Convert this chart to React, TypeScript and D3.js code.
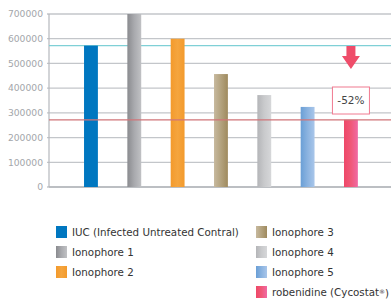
import React from "react";
import * as d3 from "d3";

const categories = [
  "IUC (Infected Untreated Contral)",
  "Ionophore 1",
  "Ionophore 2",
  "Ionophore 3",
  "Ionophore 4",
  "Ionophore 5",
  "robenidine (Cycostat®)",
];
const values = [572000, 700000, 600000, 457000, 372000, 324000, 272000];
const yTicks = [0, 100000, 200000, 300000, 400000, 500000, 600000, 700000];
const refLines = [572000, 272000];
const reductionLabel = "-52%";

const gradients: [string, string, string][] = [
  ["#0077c0", "#0077c0", "#0077c0"],
  ["#8a8b8f", "#a9aaae", "#c0c1c4"],
  ["#f39a2c", "#f5a53e", "#f39a2c"],
  ["#c7b99e", "#b3a27e", "#9f8a5e"],
  ["#b4b5b8", "#c9cacc", "#d6d7d9"],
  ["#6a9fd6", "#8bb3e0", "#a9c6ea"],
  ["#ee4868", "#f05878", "#f06aa4"],
];

export default function App() {
  const W = 391, H = 299;
  const x0 = 49, xr = 391, yTop = 14, yBot = 187;
  const x = d3.scaleBand<string>().domain(categories).range([69.3, 372.6]).paddingInner(0.68).paddingOuter(0.34);
  const y = d3.scaleLinear().domain([0, 700000]).range([yBot, yTop]);
  const fmt = d3.format("d");
  const lastX = (x(categories[6]) as number) + x.bandwidth() / 2;
  const legendRows = [
    { i: 0, col: 0, row: 0 }, { i: 1, col: 0, row: 1 }, { i: 2, col: 0, row: 2 },
    { i: 3, col: 1, row: 0 }, { i: 4, col: 1, row: 1 }, { i: 5, col: 1, row: 2 }, { i: 6, col: 1, row: 3 },
  ];
  return (
    <svg width={W} height={H} style={{ position: "absolute", left: 0, top: 0, fontFamily: "'DejaVu Sans', Verdana, sans-serif" }}>
      <defs>
        {gradients.map((g, i) => (
          <linearGradient key={i} id={`g${i}`} x1="0" x2="1" y1="0" y2="0">
            <stop offset="0%" stopColor={g[0]} />
            <stop offset="50%" stopColor={g[1]} />
            <stop offset="100%" stopColor={g[2]} />
          </linearGradient>
        ))}
      </defs>
      <rect width={W} height={H} fill="#fff" />
      {yTicks.map((t) => (
        <g key={t}>
          <line x1={t > 0 ? x0 - 2 : x0 - 2} x2={xr} y1={y(t)} y2={y(t)} stroke="#c3c6ca" strokeWidth={1.3} />
          <text x={43} y={y(t)} dy="0.35em" textAnchor="end" fontSize={9.2} fill="#a3a6aa">{fmt(t)}</text>
        </g>
      ))}
      <line x1={x0} x2={x0} y1={yTop} y2={yBot} stroke="#b5b8bc" strokeWidth={1.2} />
      <line x1={x0} x2={xr} y1={yBot} y2={yBot} stroke="#b5b8bc" strokeWidth={1.3} />
      <line x1={x0} x2={xr} y1={y(refLines[0])} y2={y(refLines[0])} stroke="#7fd0d6" strokeWidth={1.3} />
      {values.map((v, i) => (
        <rect key={i} x={x(categories[i])} y={y(v)} width={x.bandwidth()} height={yBot - y(v)} fill={`url(#g${i})`} />
      ))}
      <line x1={x0} x2={xr} y1={y(refLines[1])} y2={y(refLines[1])} stroke="#d07478" strokeWidth={1.3} />
      <path
        d={`M${lastX - 4.5},${yTop + 32} H${lastX + 4.5} V${yTop + 42} H${lastX + 9} L${lastX},${yTop + 55} L${lastX - 9},${yTop + 42} H${lastX - 4.5} Z`}
        fill="#ef4d6a"
      />
      <rect x={lastX - 18.5} y={87} width={37} height={27} fill="#fff" stroke="#f07a90" strokeWidth={1} />
      <text x={lastX} y={100.5} dy="0.35em" textAnchor="middle" fontSize={10.5} fill="#444">{reductionLabel}</text>
      {legendRows.map(({ i, col, row }) => {
        const lx = col === 0 ? 56 : 256;
        const ly = 232 + row * 20;
        return (
          <g key={i}>
            <rect x={lx} y={ly - 6} width={11} height={12} fill={`url(#g${i})`} />
            <text x={lx + 16} y={ly} dy="0.35em" fontSize={10.3} fill="#333">
              {i === 6 ? (
                <>robenidine (Cycostat<tspan fontSize={6} dy="-0.3em">®</tspan><tspan dy="0.3em">)</tspan></>
              ) : categories[i]}
            </text>
          </g>
        );
      })}
    </svg>
  );
}
